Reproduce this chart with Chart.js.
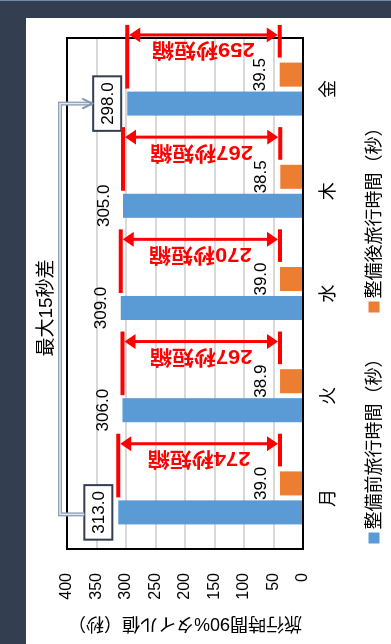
<!DOCTYPE html>
<html lang="ja">
<head>
<meta charset="utf-8">
<title>整備前後の旅行時間</title>
<script src="https://cdn.jsdelivr.net/npm/chart.js@4.4.1/dist/chart.umd.min.js"></script>
<style>
  html, body { margin: 0; padding: 0; }
  body { width: 391px; height: 644px; background: #333F50; position: relative; overflow: hidden; }
  #edge { position: absolute; left: 0; top: 0; width: 391px; height: 1px; background: #6F89AB; }
  #panel { position: absolute; left: 26px; top: 18px; width: 365px; height: 626px; background: #fff; overflow: hidden; }
  /* the chart is laid out as a column chart and turned a quarter turn counter-clockwise */
  #panel canvas { position: absolute; left: 0; top: 0; transform-origin: 0 0; transform: translate(0, 626px) rotate(-90deg); }
</style>
</head>
<body>
<div id="edge"></div>
<div id="panel"><canvas id="chart" width="626" height="365"></canvas></div>
<script>
const days = ['月', '火', '水', '木', '金'];
const beforeTimes = [313.0, 306.0, 309.0, 305.0, 298.0];
const afterTimes = [39.0, 38.9, 39.0, 38.5, 39.5];
const valueTicks = [0, 50, 100, 150, 200, 250, 300, 350, 400];
const seriesNames = ['整備前旅行時間（秒）', '整備後旅行時間（秒）'];
const seriesColors = ['#5B9BD5', '#ED7D31'];
const axisTitle = '旅行時間90%タイル値（秒）';

const LATIN = "'Liberation Sans', Arial, sans-serif";
const FONT = "'Liberation Sans', 'Noto Sans CJK JP', sans-serif";

function line(ctx, u1, v1, u2, v2) {
  ctx.beginPath(); ctx.moveTo(u1, v1); ctx.lineTo(u2, v2); ctx.stroke();
}

const annotations = {
  id: 'annotations',
  afterDatasetsDraw(chart) {
    const { ctx, chartArea: a, scales: { x } } = chart;
    const blue = chart.getDatasetMeta(0).data;
    const orange = chart.getDatasetMeta(1).data;
    const hi = Math.max(...beforeTimes), lo = Math.min(...beforeTimes);
    ctx.save();

    // plot frame
    ctx.strokeStyle = '#000'; ctx.lineWidth = 2;
    ctx.strokeRect(a.left, a.top, a.right - a.left, a.bottom - a.top);

    // value labels; the longest and shortest times are boxed
    ctx.font = `17px ${LATIN}`; ctx.textAlign = 'center'; ctx.textBaseline = 'middle';
    [[blue, beforeTimes], [orange, afterTimes]].forEach(([bars, vals]) => {
      bars.forEach((bar, i) => {
        const txt = vals[i].toFixed(1);
        const cv = bar.y - 20;
        if (vals === beforeTimes && (vals[i] === hi || vals[i] === lo)) {
          const w = ctx.measureText(txt).width + 12;
          ctx.fillStyle = '#fff'; ctx.fillRect(bar.x - w / 2, cv - 14, w, 28);
          ctx.strokeStyle = '#333F50'; ctx.lineWidth = 2; ctx.strokeRect(bar.x - w / 2, cv - 14, w, 28);
        }
        ctx.fillStyle = '#000'; ctx.fillText(txt, bar.x, cv + 1);
      });
    });

    // reduction arrows
    const catW = x.getPixelForValue(1) - x.getPixelForValue(0);
    days.forEach((d, i) => {
      const b = blue[i], o = orange[i];
      const au = x.getPixelForValue(i) + catW * 0.53;
      const v1 = b.y, v2 = o.y;
      ctx.strokeStyle = '#FF0000'; ctx.fillStyle = '#FF0000';
      ctx.lineWidth = 4;
      line(ctx, b.x + b.width / 2 + 3, v1, au + 10, v1);
      line(ctx, o.x + o.width / 2 + 5, v2, au + 10, v2);
      ctx.lineWidth = 3;
      line(ctx, au, v1 + 10, au, v2 - 10);
      [[v1 + 2, -1], [v2 - 2, 1]].forEach(([tip, dir]) => {
        ctx.beginPath();
        ctx.moveTo(au, tip);
        ctx.lineTo(au - 7.5, tip - dir * 11);
        ctx.lineTo(au + 7.5, tip - dir * 11);
        ctx.closePath(); ctx.fill();
      });
      ctx.save();
      ctx.translate(au - 14, (v1 + v2) / 2);
      ctx.rotate(-Math.PI / 2);
      ctx.scale(1.1, 1);
      ctx.font = `bold 20px ${FONT}`; ctx.textAlign = 'center'; ctx.textBaseline = 'middle';
      ctx.fillText(Math.round(beforeTimes[i] - afterTimes[i]) + '秒短縮', 0, 0);
      ctx.restore();
    });

    // connector between the longest and shortest times
    const hb = blue[beforeTimes.indexOf(hi)], lb = blue[beforeTimes.indexOf(lo)];
    const boxTop = bar => bar.y - 34;
    const railV = 34;
    const rail = () => {
      ctx.beginPath();
      ctx.moveTo(hb.x - 2, boxTop(hb));
      ctx.lineTo(hb.x - 2, railV);
      ctx.lineTo(lb.x, railV);
      ctx.lineTo(lb.x, boxTop(lb) - 1);
      ctx.stroke();
    };
    ctx.lineJoin = 'miter';
    ctx.strokeStyle = '#8EA0B8'; ctx.lineWidth = 4; rail();
    ctx.strokeStyle = '#E2E7EE'; ctx.lineWidth = 1.3; rail();
    ctx.strokeStyle = '#8497B0'; ctx.lineWidth = 2;
    ctx.beginPath();
    ctx.moveTo(lb.x - 5, boxTop(lb) - 11);
    ctx.lineTo(lb.x, boxTop(lb) - 1);
    ctx.lineTo(lb.x + 5, boxTop(lb) - 11);
    ctx.stroke();
    ctx.fillStyle = '#000'; ctx.font = `19px ${FONT}`; ctx.textAlign = 'center'; ctx.textBaseline = 'middle';
    ctx.fillText('最大' + (hi - lo) + '秒差', (hb.x + lb.x) / 2, 21);

    // legend
    ctx.font = `18px ${FONT}`;
    const items = chart.data.datasets.map(ds => ({ text: ds.label, color: ds.backgroundColor, w: ctx.measureText(ds.label).width }));
    const box = 11, gapText = 3, gapItem = 37;
    const total = items.reduce((s, it) => s + box + gapText + it.w, 0) + gapItem * (items.length - 1);
    let cu = (chart.width - total) / 2;
    const cv = 348;
    ctx.textAlign = 'left';
    items.forEach(it => {
      ctx.fillStyle = it.color; ctx.fillRect(cu, cv - box / 2, box, box);
      ctx.fillStyle = '#000'; ctx.fillText(it.text, cu + box + gapText, cv + 1);
      cu += box + gapText + it.w + gapItem;
    });
    ctx.restore();
  }
};

new Chart(document.getElementById('chart'), {
  type: 'bar',
  data: {
    labels: days,
    datasets: [
      { label: seriesNames[0], data: beforeTimes, backgroundColor: seriesColors[0], categoryPercentage: 0.567, barPercentage: 0.83 },
      { label: seriesNames[1], data: afterTimes, backgroundColor: seriesColors[1], categoryPercentage: 0.567, barPercentage: 0.83 }
    ]
  },
  options: {
    responsive: false,
    animation: false,
    devicePixelRatio: 1,
    layout: { padding: { left: 0, right: 20, top: 41, bottom: 0 } },
    plugins: { legend: { display: false }, tooltip: { enabled: false } },
    scales: {
      x: {
        grid: { display: false },
        border: { display: false },
        ticks: { color: '#000', font: { family: FONT, size: 18 }, padding: 7 },
        afterFit: s => { s.height = 88; }
      },
      y: {
        min: 0, max: 400,
        afterBuildTicks: s => { s.ticks = valueTicks.map(v => ({ value: v })); },
        grid: { color: '#D9D9D9', lineWidth: 2, drawTicks: false },
        border: { display: false },
        ticks: { color: '#000', font: { family: LATIN, size: 16 }, padding: 24 },
        title: { display: true, text: axisTitle, color: '#000', font: { family: FONT, size: 18 }, padding: { top: 10, bottom: 0 } },
        afterFit: s => { s.width = 95; }
      }
    }
  },
  plugins: [annotations]
});
</script>
</body>
</html>
